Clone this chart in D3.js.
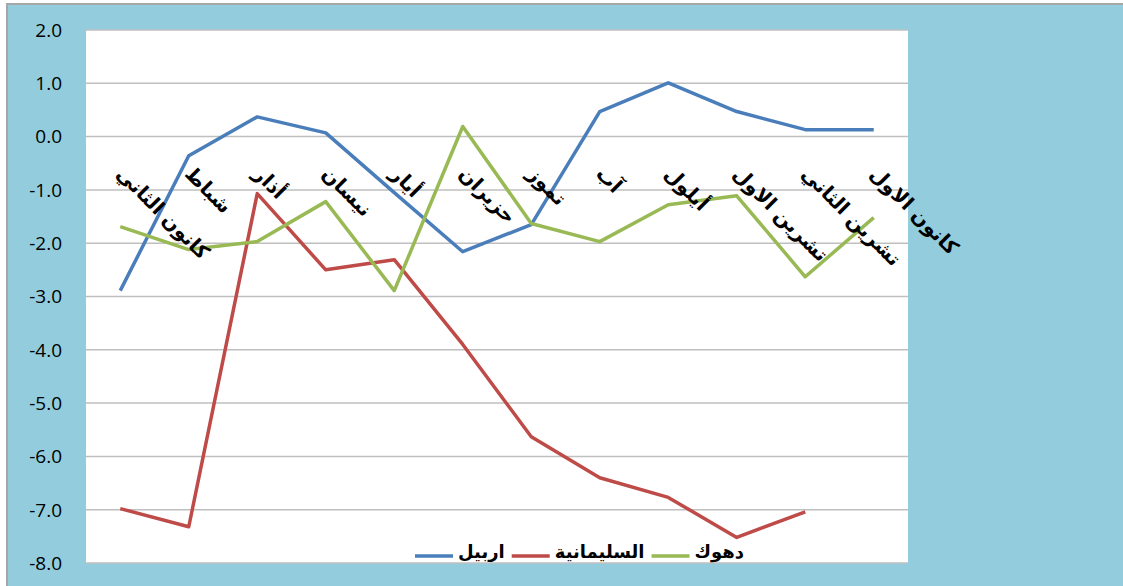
<!DOCTYPE html>
<html>
<head>
<meta charset="utf-8">
<script src="https://d3js.org/d3.v7.min.js"></script>
<style>
  body { margin: 0; background: #fff; }
  svg { display: block; }
</style>
</head>
<body>
<script>
const months = ['كانون الثاني', 'شباط', 'أذار', 'نيسان', 'أيار', 'حزيران', 'تموز', 'آب', 'أيلول', 'تشرين الاول', 'تشرين الثاني', 'كانون الاول'];
const erbil = [-2.89, -0.36, 0.37, 0.07, -1.05, -2.16, -1.65, 0.47, 1.01, 0.47, 0.13, 0.13];
const sulaymaniyah = [-6.98, -7.32, -1.07, -2.50, -2.31, -3.90, -5.63, -6.40, -6.77, -7.52, -7.04, null];
const duhok = [-1.69, -2.12, -1.97, -1.22, -2.89, 0.19, -1.63, -1.97, -1.28, -1.11, -2.63, -1.52];
const yTicks = [2, 1, 0, -1, -2, -3, -4, -5, -6, -7, -8];

const series = [
  { name: 'اربيل', values: erbil, color: '#4A7EBB' },
  { name: 'السليمانية', values: sulaymaniyah, color: '#BE4B48' },
  { name: 'دهوك', values: duhok, color: '#98B954' }
];

const width = 1123, height = 586;
const plot = { left: 86, right: 908, top: 30, bottom: 563 };

const svg = d3.select('body').append('svg')
  .attr('width', width).attr('height', height);

// chart background and border
svg.append('rect').attr('x', 0).attr('y', 0).attr('width', width).attr('height', height).attr('fill', '#fff');
svg.append('rect').attr('x', 7).attr('y', 4).attr('width', width).attr('height', height)
  .attr('fill', '#93CDDD').attr('stroke', '#A6A6A6').attr('stroke-width', 2);
svg.append('rect').attr('x', plot.left).attr('y', plot.top)
  .attr('width', plot.right - plot.left).attr('height', plot.bottom - plot.top)
  .attr('fill', '#fff');

const x = d3.scaleBand().domain(months).range([plot.left, plot.right]);
const y = d3.scaleLinear().domain([-8, 2]).range([plot.bottom, plot.top]);
const cx = m => x(m) + x.bandwidth() / 2;

// gridlines
svg.append('g')
  .selectAll('line')
  .data(yTicks)
  .enter().append('line')
  .attr('x1', plot.left).attr('x2', plot.right)
  .attr('y1', d => y(d)).attr('y2', d => y(d))
  .attr('stroke', '#BFBFBF').attr('stroke-width', 1.5);

// y axis labels
svg.append('g')
  .attr('font-family', 'Open Sans, Noto Sans, sans-serif')
  .attr('font-size', 19)
  .attr('text-anchor', 'end')
  .selectAll('text')
  .data(yTicks)
  .enter().append('text')
  .attr('x', 62)
  .attr('y', d => y(d))
  .attr('dy', '0.36em')
  .attr('fill', '#000')
  .text(d => d.toFixed(1));

// lines
const line = d3.line()
  .defined(d => d.v !== null)
  .x(d => cx(d.m))
  .y(d => y(d.v));

svg.append('g')
  .selectAll('path')
  .data(series)
  .enter().append('path')
  .attr('d', s => line(s.values.map((v, i) => ({ m: months[i], v: v }))))
  .attr('fill', 'none')
  .attr('stroke', s => s.color)
  .attr('stroke-width', 3.5)
  .attr('stroke-linejoin', 'round');

// category labels, rotated
svg.append('g')
  .attr('font-family', 'DejaVu Sans, sans-serif')
  .attr('font-size', 20)
  .attr('font-weight', 'bold')
  .selectAll('text')
  .data(months)
  .enter().append('text')
  .attr('transform', d => `translate(${cx(d)},170) rotate(45)`)
  .attr('dy', '0.35em')
  .attr('text-anchor', 'start')
  .attr('fill', '#000')
  .text(d => d);

// legend
const legend = svg.append('g')
  .attr('font-family', 'DejaVu Sans, sans-serif')
  .attr('font-size', 18)
  .attr('font-weight', 'bold');

let lx = 415;
series.forEach(s => {
  legend.append('line')
    .attr('x1', lx).attr('x2', lx + 38)
    .attr('y1', 556).attr('y2', 556)
    .attr('stroke', s.color).attr('stroke-width', 3.5);
  const t = legend.append('text')
    .attr('x', lx + 43).attr('y', 552)
    .attr('dy', '0.35em')
    .attr('fill', '#000')
    .text(s.name);
  lx += 43 + t.node().getComputedTextLength() + 7;
});
</script>
</body>
</html>
